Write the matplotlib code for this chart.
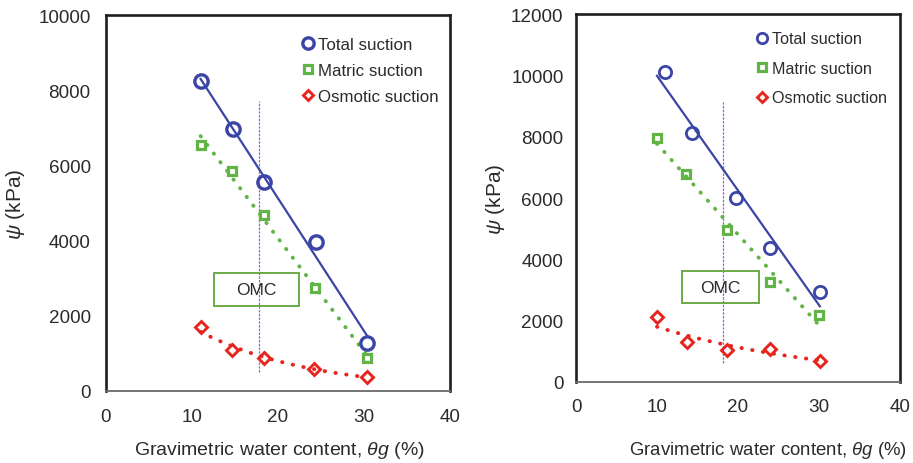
import numpy as np
import matplotlib
matplotlib.use("Agg")
import matplotlib.pyplot as plt
from matplotlib.patches import Rectangle

plt.rcParams["font.family"] = ["Liberation Sans", "DejaVu Sans"]
plt.rcParams["mathtext.fontset"] = "custom"
plt.rcParams["mathtext.rm"] = "Liberation Sans"
plt.rcParams["mathtext.it"] = "Liberation Sans:italic"

# left panel data (water content %, suction kPa)
left_total_x = [11.0, 14.8, 18.4, 24.4, 30.3]
left_total_y = [8250, 6980, 5550, 3960, 1270]
left_matric_x = [11.0, 14.7, 18.4, 24.3, 30.3]
left_matric_y = [6550, 5850, 4680, 2750, 880]
left_osmotic_x = [11.0, 14.7, 18.4, 24.2, 30.3]
left_osmotic_y = [1700, 1090, 880, 590, 370]

# right panel data
right_total_x = [11.0, 14.3, 19.8, 24.0, 30.1]
right_total_y = [10130, 8120, 5990, 4370, 2920]
right_matric_x = [10.0, 13.6, 18.6, 24.0, 30.0]
right_matric_y = [7960, 6790, 4960, 3270, 2190]
right_osmotic_x = [10.0, 13.7, 18.7, 24.0, 30.1]
right_osmotic_y = [2100, 1290, 1050, 1070, 690]

series_labels = ["Total suction", "Matric suction", "Osmotic suction"]
x_ticks = [0, 10, 20, 30, 40]
left_y_ticks = [0, 2000, 4000, 6000, 8000, 10000]
right_y_ticks = [0, 2000, 4000, 6000, 8000, 10000, 12000]

# OMC marker line and box
left_omc_x = 17.8
left_omc_span = [500, 7700]
left_omc_box = [12.55, 2270, 9.85, 870]
right_omc_x = 18.2
right_omc_span = [600, 9150]
right_omc_box = [13.05, 2570, 9.5, 1030]

BLUE = "#3b45a5"
GREEN = "#62b446"
RED = "#e8241f"
PURPLE = "#9a62d2"
TXT = "#2b2b2b"


def linear_trend(x, y, xs):
    a, b = np.polyfit(x, y, 1)
    return a * xs + b


def expo_trend(x, y, xs):
    a, b = np.polyfit(x, np.log(y), 1)
    return np.exp(a * xs + b)


def draw_panel(ax, tot, mat, osm, yticks, omc_x, omc_span, omc_box,
               circ_ms, circ_mew, ypad, xlab_fs, leg_anchor, leg_fs, leg_spacing):
    allx = tot[0] + mat[0] + osm[0]
    xs = np.linspace(min(allx), max(allx), 100)
    dots = (0, (0.1, 2.7))

    ax.plot(xs, linear_trend(tot[0], tot[1], xs), color=BLUE, lw=1.6, zorder=2)
    ax.plot(xs, linear_trend(mat[0], mat[1], xs), color=GREEN, lw=2.8,
            linestyle=dots, dash_capstyle="round", zorder=2)
    ax.plot(xs, expo_trend(osm[0], osm[1], xs), color=RED, lw=2.8,
            linestyle=dots, dash_capstyle="round", zorder=2)

    h1, = ax.plot(tot[0], tot[1], "o", ms=circ_ms, mew=circ_mew, mfc="none",
                  mec=BLUE, zorder=3)
    h2, = ax.plot(mat[0], mat[1], "s", ms=6.4, mew=2.3, mfc="none",
                  mec=GREEN, zorder=3)
    h3, = ax.plot(osm[0], osm[1], "D", ms=5.8, mew=2.1, mfc="none",
                  mec=RED, zorder=3)

    ax.plot([omc_x, omc_x], omc_span, color=PURPLE, lw=0.9,
            linestyle=(0, (2, 1)), zorder=1)
    bx, by, bw, bh = omc_box
    ax.add_patch(Rectangle((bx, by), bw, bh, facecolor="none",
                           edgecolor="#6aaa48", lw=1.4, zorder=1.5))
    ax.text(bx + bw / 2, by + bh / 2, "OMC", ha="center", va="center",
            fontsize=12.5, color=TXT, zorder=4)

    ax.set_xlim(0, 40)
    ax.set_ylim(0, yticks[-1])
    ax.set_xticks(x_ticks)
    ax.set_yticks(yticks)
    ax.tick_params(length=0, labelsize=13.6, labelcolor=TXT)
    ax.tick_params(axis="y", pad=ypad)
    ax.tick_params(axis="x", pad=12)
    for side in ["left", "top", "right"]:
        ax.spines[side].set_linewidth(1.9)
        ax.spines[side].set_color("#1e1e1e")
    ax.spines["bottom"].set_linewidth(1.3)
    ax.spines["bottom"].set_color("#6a6a6a")

    ax.set_ylabel(r"$\psi$ (kPa)", fontsize=15, color=TXT)
    ax.set_xlabel(r"Gravimetric water content, $\theta g$ (%)",
                  fontsize=xlab_fs, color=TXT)

    ax.legend([h1, h2, h3], series_labels, loc="upper left",
              bbox_to_anchor=leg_anchor, frameon=False, fontsize=leg_fs,
              handlelength=0.8, handletextpad=0.2, borderpad=0,
              borderaxespad=0, labelspacing=leg_spacing, markerscale=0.85,
              labelcolor=TXT)


fig = plt.figure(figsize=(9.13, 4.64), dpi=100)
ax1 = fig.add_axes([0.1161, 0.1552, 0.3768, 0.8103])
ax2 = fig.add_axes([0.6309, 0.1752, 0.3549, 0.7918])

draw_panel(ax1, (left_total_x, left_total_y), (left_matric_x, left_matric_y),
           (left_osmotic_x, left_osmotic_y), left_y_ticks, left_omc_x,
           left_omc_span, left_omc_box, 9.6, 2.4, 11, 14,
           (0.567, 0.941), 12.2, 0.65)
draw_panel(ax2, (right_total_x, right_total_y), (right_matric_x, right_matric_y),
           (right_osmotic_x, right_osmotic_y), right_y_ticks, right_omc_x,
           right_omc_span, right_omc_box, 8.8, 2.0, 9, 13.4,
           (0.555, 0.954), 11.6, 0.9)

ax1.yaxis.set_label_coords(-0.23, 0.5)
ax1.xaxis.set_label_coords(0.503, -0.128)
ax2.yaxis.set_label_coords(-0.213, 0.5)
ax2.xaxis.set_label_coords(0.593, -0.156)

fig.savefig("out.png", dpi=100)
